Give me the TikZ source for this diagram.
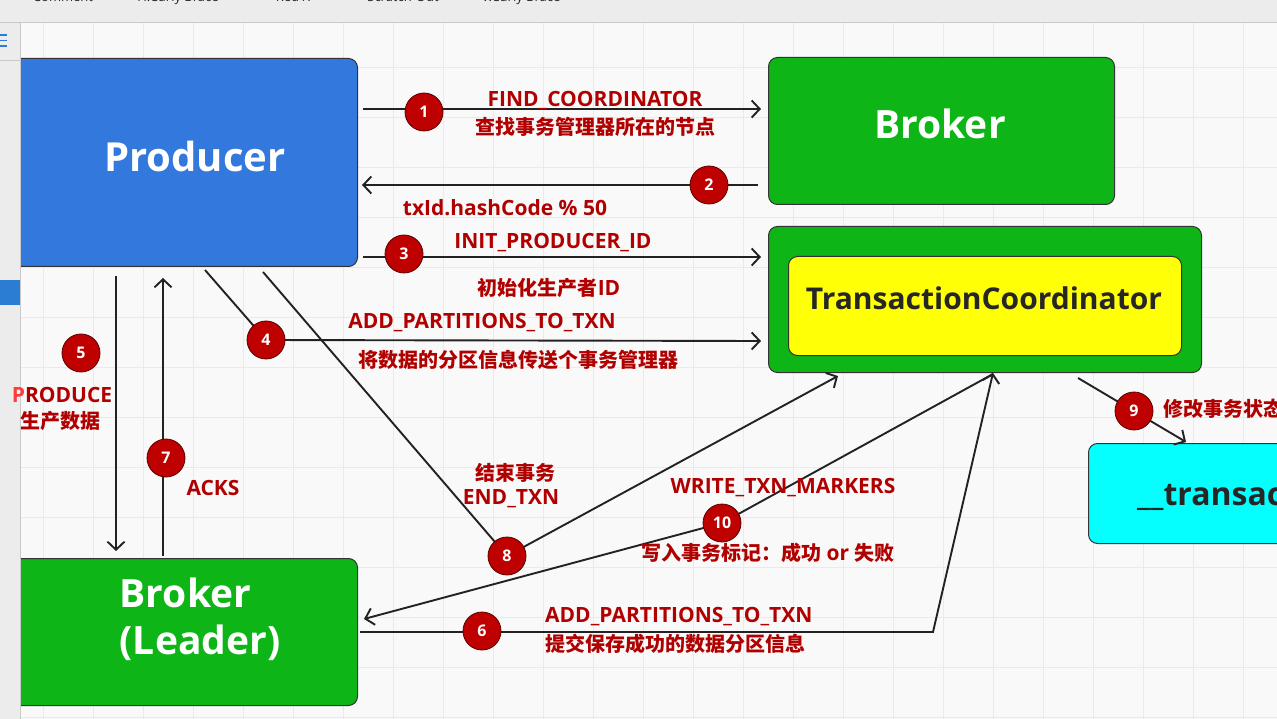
\documentclass[tikz,border=0pt]{standalone}
\usepackage{fontspec}
\setmainfont{Open Sans}
\newfontfamily\cjk{Noto Sans CJK SC}
\newcommand\zhtxt[1]{{\cjk\fontsize{20}{24}\selectfont #1}}
\usetikzlibrary{arrows.meta}
\definecolor{gridc}{HTML}{EAEAEA}
\definecolor{bgc}{HTML}{F9F9F9}
\definecolor{prodblue}{HTML}{3378DD}
\definecolor{kgreen}{HTML}{0DB516}
\definecolor{kyellow}{HTML}{FFFF05}
\definecolor{kcyan}{HTML}{05FFFF}
\definecolor{badgefill}{HTML}{BE0000}
\definecolor{badgeline}{HTML}{5A0000}
\definecolor{lbl}{HTML}{B00000}
\definecolor{brightred}{HTML}{FF3B3B}
\definecolor{panelc}{HTML}{ECECEC}
\definecolor{panelline}{HTML}{C9C9C9}
\definecolor{lineg}{HTML}{222222}
\definecolor{iconblue}{HTML}{2B7CD3}
\definecolor{darktext}{HTML}{262626}
\begin{document}
\begin{tikzpicture}[x=1pt,y=-1pt,
  box/.style={draw=black!80, line width=1pt, rounded corners=9pt, inner sep=0pt, anchor=north west},
  arr/.style={draw=lineg, line width=1.9pt, -{Straight Barb[length=8pt,width=17pt,line width=1.9pt]}},
  badge/.style={circle, fill=badgefill, draw=badgeline, line width=0.8pt, minimum size=38pt, inner sep=0pt, text=white, font=\fontsize{16}{18}\selectfont\bfseries},
  lab/.style={text=lbl, font=\fontsize{21}{24}\selectfont\bfseries, inner sep=0pt},
  big/.style={text=white, font=\fontsize{40}{48}\selectfont\bfseries, inner sep=0pt},
  tool/.style={text=darktext, font=\fontsize{13}{15}\selectfont, inner sep=0pt, anchor=base},
]
\useasboundingbox (0,0) rectangle (1277,719);
\clip (0,0) rectangle (1277,719);
% canvas
\fill[bgc] (0,0) rectangle (1277,719);
\foreach \x in {43,93,...,1293} \draw[gridc, line width=0.8pt] (\x,22) -- (\x,719);
\foreach \y in {67,117,...,717} \draw[gridc, line width=0.8pt] (20,\y) -- (1277,\y);

% boxes
\node[box, fill=prodblue, minimum width=357pt, minimum height=208pt] (prod) at (0,58) {};
\node[big] (prodtxt) at (195,157) {Producer};
\node[box, fill=kgreen, minimum width=346pt, minimum height=147pt] (brk) at (768,57) {};
\node[big, font=\fontsize{39}{47}\selectfont\bfseries] (brktxt) at (940,124) {Broker};
\node[box, fill=kgreen, minimum width=433pt, minimum height=146pt] (tcout) at (768,226) {};
\node[box, fill=kyellow, minimum width=393pt, minimum height=99pt] (tc) at (788,256) {};
\node[text=darktext, font=\fontsize{30}{36}\selectfont\bfseries, inner sep=0pt] (tctxt) at (984,298) {TransactionCoordinator};
\node[box, fill=kgreen, minimum width=357pt, minimum height=147pt] (leader) at (0,558) {};
\node[big, font=\fontsize{39}{47}\selectfont\bfseries, align=left] (leadertxt) at (200,619) {Broker\\(Leader)};
\node[box, fill=kcyan, minimum width=230pt, minimum height=100pt] (tstate) at (1088,443) {};
\node[text=darktext, font=\fontsize{32}{38}\selectfont\bfseries, inner sep=0pt, anchor=base west] (tstatetxt) at (1137,505) {\_\_transac};

% connector end points
\coordinate (a1s) at (363,109); \coordinate (a1e) at (761,109);
\coordinate (a2s) at (758,185); \coordinate (a2e) at (362,185);
\coordinate (a3s) at (363,257); \coordinate (a3e) at (761,257);
\coordinate (a4s) at (205,270); \coordinate (a4e) at (761,341);
\coordinate (a5s) at (116,276); \coordinate (a5e) at (116,551);
\coordinate (a7s) at (163,556); \coordinate (a7e) at (163,278);
\coordinate (a8s) at (263,272); \coordinate (a8e) at (838,376);
\coordinate (a10s) at (993,374); \coordinate (a10e) at (364,619);
\coordinate (a6s) at (360,632); \coordinate (a6m) at (933,632); \coordinate (a6e) at (993,373);
\coordinate (a9s) at (1078,378); \coordinate (a9e) at (1186,442);

% badge centres
\coordinate (p4) at (266,340);
\coordinate (p8) at (507,556);
\coordinate (p10) at (722,523);

% connectors
\draw[arr] (a1s) -- (a1e);
\draw[arr] (a2s) -- (a2e);
\draw[arr] (a3s) -- (a3e);
\draw[arr] (a4s) -- (p4) -- (a4e);
\draw[arr] (a5s) -- (a5e);
\draw[arr] (a7s) -- (a7e);
\draw[arr] (a8s) -- (p8) -- (a8e);
\draw[arr] (a10s) -- (p10) -- (a10e);
\draw[arr] (a6s) -- (a6m) -- (a6e);
\draw[arr] (a9s) -- (a9e);

% badges
\node[badge] (c1) at (424,112) {1};
\node[badge] (c2) at (709,185) {2};
\node[badge] (c3) at (404,254) {3};
\node[badge] (c4) at (p4) {4};
\node[badge] (c5) at (81,353) {5};
\node[badge] (c7) at (166,458) {7};
\node[badge] (c8) at (p8) {8};
\node[badge] (c10) at (p10) {10};
\node[badge] (c6) at (482,631) {6};
\node[badge] (c9) at (1134,411) {9};

% labels
\node[lab] (l1a) at (595,101) {FIND\_COORDINATOR};
\node[lab] (l1b) at (595,127) {\zhtxt{查找事务管理器所在的节点}};
\node[lab] (l2) at (505,208) {txId.hashCode \% 50};
\node[lab] (l3a) at (553,243) {INIT\_PRODUCER\_ID};
\node[lab] (l3b) at (549,288) {\zhtxt{初始化生产者}ID};
\node[lab] (l4a) at (482,323) {ADD\_PARTITIONS\_TO\_TXN};
\node[lab] (l4b) at (518,360) {\zhtxt{将数据的分区信息传送个事务管理器}};
\node[lab] (l7) at (213,488) {ACKS};
\node[lab] (l8a) at (515,473) {\zhtxt{结束事务}};
\node[lab] (l8b) at (511,499) {END\_TXN};
\node[lab] (l10a) at (783,488) {WRITE\_TXN\_MARKERS};
\node[lab] (l10b) at (768,553) {\zhtxt{写入事务标记：成功} or \zhtxt{失败}};
\node[lab, anchor=west] (l6a) at (545,617) {ADD\_PARTITIONS\_TO\_TXN};
\node[lab, anchor=west] (l6b) at (545,644) {\zhtxt{提交保存成功的数据分区信息}};
\node[lab, anchor=west] (l9) at (1163,409) {\zhtxt{修改事务状态}};

% left panel
\fill[panelc] (0,22) rectangle (20,719);
\draw[panelline, line width=1pt] (20.5,22) -- (20.5,719);
\draw[panelline, line width=0.8pt] (0,60) -- (20,60);
\fill[iconblue] (0,280) rectangle (20,305);
\foreach \y in {35,40.5,46} \draw[iconblue, line width=1.2pt] (0,\y) -- (7,\y);

% toolbar
\fill[panelc] (0,0) rectangle (1277,22);
\draw[panelline, line width=1pt] (0,22.5) -- (1277,22.5);
\node[tool] (t1) at (63,2) {Comment};
\node[tool] (t2) at (178,2) {H.Curly Brace};
\node[tool] (t3) at (293,2) {Red X};
\node[tool] (t4) at (403,2) {Scratch-Out};
\node[tool] (t5) at (521,2) {V.Curly Brace};

% PRODUCE label (drawn over panel edge)
\node[lab] (l5a) at (62,395) {{\color{brightred}P}RODUCE};
\node[lab] (l5b) at (60,421) {\zhtxt{生产数据}};
\end{tikzpicture}
\end{document}
